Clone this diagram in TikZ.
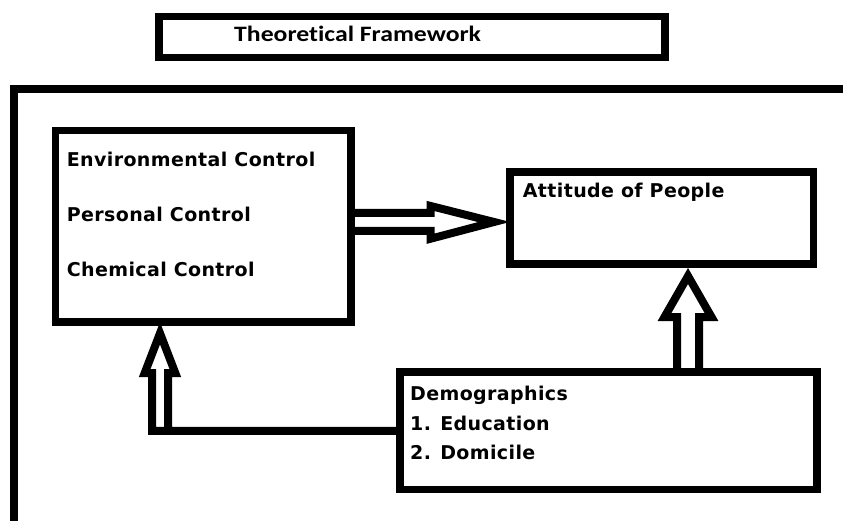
\documentclass[tikz,border=0pt]{standalone}
\usepackage{fontspec}
\setmainfont{DejaVu Sans}[LetterSpace=2]
\newfontfamily\titlefont{Carlito}[Ligatures=NoCommon,FakeStretch=1.17]
\usetikzlibrary{calc}

\begin{document}
\begin{tikzpicture}[x=1pt,y=-1pt]

\tikzset{box/.style = {shape=rectangle,draw,line width=7.6pt,inner sep=0pt,outer sep=0pt}}
\tikzset{txt/.style = {anchor=base west,inner sep=0pt,font=\fontsize{19}{19}\selectfont\bfseries}}
\tikzset{hollow/.style = {draw,line width=8pt,line join=miter}}

\useasboundingbox (0,0) rectangle (843,521);
\clip (0,0) rectangle (843,521);
%frame
\draw[line width=8pt] (14,530) -- (14,88.7) -- (850,88.7);
%boxes
\node[box, minimum width=506pt, minimum height=40.8pt] (title) at (412,37.1) {};
\node[box, minimum width=295.7pt, minimum height=191.7pt] (ctrl) at (203.3,226.4) {};
\node[box, minimum width=303.3pt, minimum height=92pt] (att) at (661.7,218) {};
\node[box, minimum width=417pt, minimum height=117.5pt] (demog) at (608.5,430.8) {};
%texts
\node[txt, font=\titlefont\fontsize{22}{22}\selectfont\bfseries] (ttl) at (234,41.7) {Theoretical Framework};
\node[txt] (env) at (66.7,166.7) {Environmental Control};
\node[txt] (pers) at (66.7,221.7) {Personal Control};
\node[txt] (chem) at (66.7,276.7) {Chemical Control};
\node[txt] (attl) at (522.7,197.3) {Attitude of People};
\node[txt] (dem) at (410,400.7) {Demographics};
\node[txt] (edu) at (410,430) {1. Education};
\node[txt] (dom) at (410,459.3) {2. Domicile};
%arrows
\draw[hollow] (ctrl.east |- 0,213) -- (430.7,213) -- (430.7,206) -- ($(att.west)+(-16,4)$) -- (430.7,238.7) -- (430.7,231) -- (ctrl.east |- 0,231);
\draw[hollow] (677,0 |- demog.north) -- (677,317) -- (664.5,317) -- ($(688,0 |- att.south)+(0,12)$) -- (711.5,317) -- (699,317) -- (699,0 |- demog.north);
\draw[hollow] (demog.west) -- (152,0 |- demog.west) -- (152,373) -- (144.7,373) -- ($(160,0 |- ctrl.south)+(0,11)$) -- (175.3,373) -- (168,373) -- (168,0 |- demog.west);

\end{tikzpicture}
\end{document}
